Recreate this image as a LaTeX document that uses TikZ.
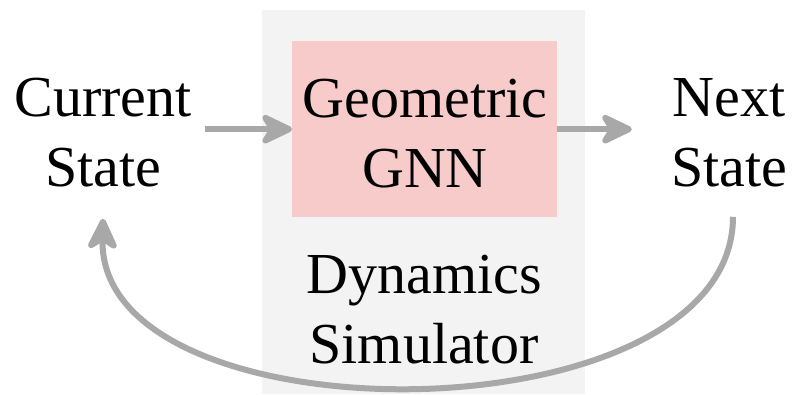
\documentclass[tikz,border=0pt]{standalone}
\usepackage{fontspec}
\setmainfont{Liberation Serif}
\usetikzlibrary{arrows.meta}
\definecolor{simbg}{HTML}{F3F3F3}
\definecolor{gnnbg}{HTML}{F8CBCB}
\definecolor{conncol}{HTML}{A8A8A8}
\begin{document}
\begin{tikzpicture}[x=1pt,y=-1pt,
  lbl/.style={font=\fontsize{58}{70}\selectfont, align=center, inner sep=0pt},
  conn/.style={draw=conncol, line width=6pt,
    -{Stealth[length=38pt,width=36pt,inset=11pt,round]}}]
\useasboundingbox (0,0) rectangle (794,394);
% simulator panel and GNN block
\node[fill=simbg, minimum width=323pt, minimum height=384pt, inner sep=0pt, anchor=north west] (sim) at (262,10) {};
\node[fill=gnnbg, minimum width=265pt, minimum height=176pt, inner sep=0pt, anchor=north west] (gnn) at (292,41) {};
\node[lbl, anchor=base] (gnntxt) at (425,187) {Geometric\\GNN};
\node[lbl, anchor=base] (simtxt) at (424,363) {Dynamics\\Simulator};
% states
\node[lbl, anchor=base] (cur) at (103,186) {Current\\State};
\node[lbl, anchor=base] (nxt) at (729,186) {Next\\State};
% connectors
\coordinate (c0) at ([xshift=13pt]cur.east |- gnn.west);
\coordinate (n0) at ([xshift=-39pt]nxt.west |- gnn.east);
\coordinate (nb) at ([xshift=4pt,yshift=-30pt]nxt.south);
\coordinate (cb) at ([yshift=-32pt]cur.south);
\draw[conn] (c0) -- (gnn.west);
\draw[conn] (gnn.east) -- (n0);
\draw[conn] (nb) .. controls ++(0,225) and ([xshift=-5pt,yshift=-225pt]cb) .. (cb);
\end{tikzpicture}
\end{document}
